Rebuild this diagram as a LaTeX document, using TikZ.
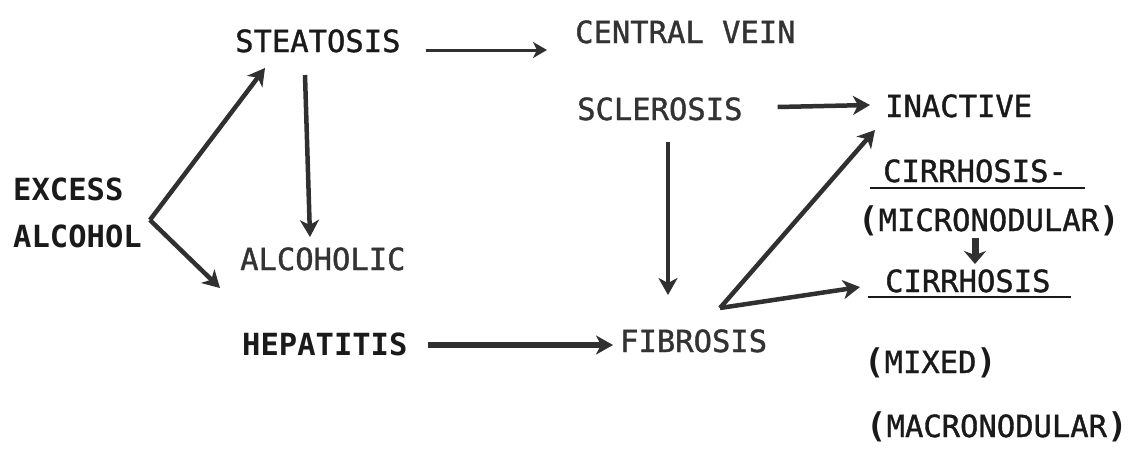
\documentclass[tikz,border=0pt]{standalone}
\usepackage{fontspec}
\newfontfamily\tw{DejaVu Sans Mono}[FakeBold=1.2]
\newfontfamily\twb{DejaVu Sans Mono Bold}
\usetikzlibrary{arrows.meta,calc}
\definecolor{ink}{HTML}{1A1A1A}
\definecolor{inkl}{HTML}{333333}
\definecolor{arr}{HTML}{303030}
\tikzset{
  lbl/.style={anchor=base west,inner sep=0pt,text=ink,font=\tw\fontsize{30.5}{36}\selectfont},
  lbll/.style={lbl,text=inkl},
  lblb/.style={lbl,font=\twb\fontsize{30.5}{36}\selectfont},
  conn/.style={draw=arr,line width=4.5pt,-{Stealth[length=17pt,width=19pt,inset=5pt]}},
  connthin/.style={conn,line width=3pt,-{Stealth[length=14pt,width=16pt,inset=4pt]}},
  uline/.style={draw=ink,line width=2.6pt}
}
\newcommand{\bpar}[1]{{\twb\fontsize{34}{36}\selectfont#1}}
\begin{document}
\begin{tikzpicture}[x=1pt,y=-1pt]
\useasboundingbox[fill=white] (0,0) rectangle (1132,448);
% labels
\node[lblb] (excess) at (13,200) {EXCESS};
\node[lblb] (alcohol) at (13,247) {ALCOHOL};
\node[lbl] (steat) at (235,52) {STEATOSIS};
\node[lbll] (cv) at (575,43) {CENTRAL VEIN};
\node[lbll] (scl) at (577,120) {SCLEROSIS};
\node[lbl] (inactive) at (885,117) {INACTIVE};
\node[lbl] (cirrm) at (883,182) {CIRRHOSIS-};
\node[lbl] (micro) at (858,231) {\bpar{(}MICRONODULAR\bpar{)}};
\node[lbll] (alcoholic) at (240,270) {ALCOHOLIC};
\node[lblb] (hep) at (242,355) {HEPATITIS};
\node[lbll] (fib) at (620,352) {FIBROSIS};
\node[lbl] (cirr) at (885,292) {CIRRHOSIS};
\node[lbl] (mixed) at (864,373) {\bpar{(}MIXED\bpar{)}};
\node[lbl] (macro) at (866,437) {\bpar{(}MACRONODULAR\bpar{)}};
% branch points
\coordinate (ea) at ($(alcohol.base east)+(8,-27)$);
\coordinate (fv) at ($(fib.base west)+(100,-44)$);
% underlines
\draw[uline] ($(cirrm.base west)+(-13,6)$) -- ($(cirrm.base east)+(18,6)$);
\draw[uline] ($(cirr.base west)+(-17,5)$) -- ($(cirr.base east)+(20,5)$);
% connectors
\draw[conn] (ea) -- ($(steat.base west)+(30,16)$);
\draw[conn] (ea) -- ($(alcoholic.base west)+(-20,18)$);
\draw[conn] ($(steat.base west)+(70,23)$) -- ($(alcoholic.base west)+(70,-33)$);
\draw[connthin] ($(steat.base east)+(25,-2)$) -- ($(cv.base west)+(-28,7)$);
\draw[conn] ($(scl.base east)+(35,-13)$) -- ($(inactive.base west)+(-15,-12)$);
\draw[conn] ($(scl.base west)+(91,22)$) -- ($(fib.base west)+(48,-57)$);
\draw[conn,line width=5.5pt] ($(hep.base east)+(20,-10)$) -- ($(fib.base west)+(-7,-7)$);
\draw[conn] (fv) -- ($(inactive.base west)+(-10,13)$);
\draw[conn] (fv) -- ($(cirr.base west)+(-25,-5)$);
\draw[conn,line width=7pt,-{Stealth[length=13pt,width=22pt,inset=4pt]}] ($(micro.base west)+(117,7)$) -- ($(cirr.base west)+(90,-28)$);
\end{tikzpicture}
\end{document}
